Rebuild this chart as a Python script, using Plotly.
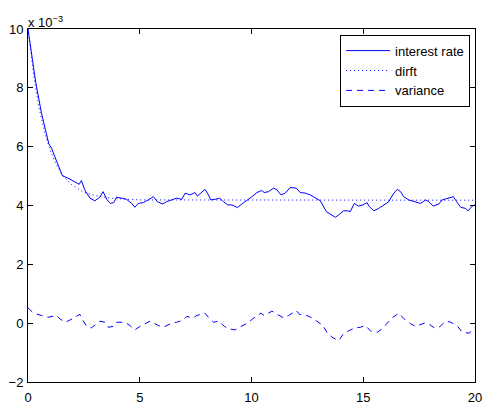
import plotly.graph_objects as go

# values in units of 1e-3
rate_t = [0, 0.15, 0.35, 0.6, 0.93, 1.05, 1.24, 1.39, 1.54, 1.79, 2.09, 2.29, 2.39, 2.54, 2.77, 2.99, 3.21, 3.36, 3.54, 3.69, 3.84, 3.96, 4.19, 4.41, 4.64, 4.78, 4.93, 5.16, 5.38, 5.61, 5.79, 6.03, 6.20, 6.43, 6.65, 6.88, 7.03, 7.25, 7.47, 7.58, 7.78, 7.92, 8.03, 8.18, 8.37, 8.57, 8.75, 8.93, 9.12, 9.37, 9.57, 9.79, 10.02, 10.24, 10.46, 10.57, 10.76, 10.99, 11.14, 11.32, 11.51, 11.73, 12.00, 12.18, 12.41, 12.63, 12.86, 13.08, 13.35, 13.56, 13.75, 13.90, 14.12, 14.30, 14.42, 14.60, 14.79, 14.99, 15.17, 15.25, 15.47, 15.69, 15.92, 16.14, 16.34, 16.52, 16.67, 16.81, 17.04, 17.26, 17.56, 17.79, 17.93, 18.13, 18.38, 18.53, 18.76, 19.03, 19.18, 19.36, 19.58, 19.69, 19.88, 20]
rate_v = [10.0, 9.2, 8.17, 7.15, 6.1, 5.95, 5.61, 5.32, 5.01, 4.93, 4.81, 4.72, 4.85, 4.53, 4.25, 4.16, 4.28, 4.47, 4.19, 4.07, 4.10, 4.28, 4.25, 4.21, 4.07, 3.94, 4.07, 4.10, 4.19, 4.30, 4.13, 4.05, 4.13, 4.19, 4.25, 4.21, 4.42, 4.36, 4.44, 4.32, 4.47, 4.55, 4.42, 4.19, 4.21, 4.25, 4.13, 4.02, 4.02, 3.93, 4.05, 4.16, 4.30, 4.44, 4.51, 4.44, 4.47, 4.59, 4.53, 4.36, 4.42, 4.61, 4.59, 4.44, 4.42, 4.36, 4.25, 4.16, 3.79, 3.68, 3.60, 3.68, 3.82, 3.82, 3.79, 4.07, 3.98, 4.02, 4.10, 3.98, 3.82, 3.90, 4.02, 4.13, 4.39, 4.55, 4.47, 4.30, 4.19, 4.13, 4.07, 4.19, 4.13, 3.98, 4.05, 4.19, 4.25, 4.30, 4.13, 3.94, 3.90, 3.82, 3.98, 4.02]

drift_t = [0, 0.25, 0.5, 0.75, 1.0, 1.25, 1.5, 1.75, 2.0, 2.5, 3.0, 3.5, 4.0, 5.0, 20]
drift_v = [10.0, 8.44, 7.30, 6.47, 5.86, 5.42, 5.09, 4.85, 4.68, 4.45, 4.34, 4.27, 4.23, 4.19, 4.18]

var_t = [0.0, 0.25, 0.60, 0.90, 1.27, 1.42, 1.65, 1.84, 2.32, 2.39, 2.62, 2.84, 3.22, 3.44, 3.59, 3.81, 3.96, 4.34, 4.56, 4.78, 5.01, 5.46, 5.83, 6.05, 6.43, 6.65, 6.95, 7.10, 7.40, 7.55, 7.92, 8.07, 8.30, 8.52, 8.79, 8.97, 9.27, 9.50, 9.82, 10.06, 10.42, 10.57, 10.91, 11.14, 11.43, 11.66, 12.00, 12.15, 12.48, 12.71, 13.01, 13.20, 13.41, 13.65, 13.90, 14.12, 14.42, 14.65, 14.87, 15.10, 15.33, 15.63, 15.85, 16.14, 16.29, 16.59, 16.82, 17.12, 17.35, 17.73, 17.88, 18.18, 18.39, 18.70, 18.92, 19.22, 19.44, 19.74, 20.0]
var_v = [0.52, 0.34, 0.26, 0.20, 0.26, 0.15, 0.03, 0.09, 0.30, 0.18, -0.11, -0.16, 0.07, 0.03, -0.14, -0.11, 0.03, 0.03, -0.08, -0.23, -0.11, 0.07, -0.08, -0.14, 0.0, 0.03, 0.11, 0.23, 0.18, 0.26, 0.34, 0.20, 0.03, 0.07, -0.11, -0.19, -0.23, -0.12, 0.0, 0.15, 0.34, 0.26, 0.41, 0.32, 0.18, 0.26, 0.43, 0.30, 0.26, 0.18, 0.03, -0.08, -0.36, -0.50, -0.59, -0.36, -0.23, -0.16, -0.14, -0.08, -0.27, -0.31, -0.19, 0.03, 0.18, 0.34, 0.15, -0.02, -0.11, 0.0, 0.0, -0.16, -0.14, 0.07, 0.03, -0.11, -0.31, -0.34, -0.15]

x_ticks = [0, 5, 10, 15, 20]
y_ticks = [-2, 0, 2, 4, 6, 8, 10]

blue = "#0000ff"
fig = go.Figure()
fig.add_trace(go.Scatter(x=rate_t, y=rate_v, mode="lines", name="interest rate",
                         line=dict(color=blue, width=1)))
fig.add_trace(go.Scatter(x=drift_t, y=drift_v, mode="lines", name="dirft",
                         line=dict(color=blue, width=1, dash="1px,3px")))
fig.add_trace(go.Scatter(x=var_t, y=var_v, mode="lines", name="variance",
                         line=dict(color=blue, width=1, dash="6px,5px")))

axis_common = dict(showgrid=False, zeroline=False, showline=True, linecolor="black",
                   linewidth=1, mirror="ticks", ticks="inside", ticklen=5,
                   tickcolor="black", tickfont=dict(size=13, color="black"),
                   automargin=False, ticklabeloverflow="allow")
fig.update_xaxes(range=[0, 20], tickvals=x_ticks, ticklabelstandoff=3, **axis_common)
fig.update_yaxes(range=[-2, 10], tickvals=y_ticks, ticklabelstandoff=1, **axis_common)

fig.add_annotation(text="x 10<sup>−3</sup>", xref="paper", yref="paper", x=0, y=1,
                   xanchor="left", yanchor="bottom", showarrow=False,
                   font=dict(size=13, color="black"), yshift=-3, xshift=-2)

fig.update_layout(
    width=483, height=405,
    margin=dict(l=28, r=8, t=29, b=23),
    plot_bgcolor="white", paper_bgcolor="white",
    font=dict(family="Liberation Sans, Arial, sans-serif", size=13, color="black"),
    legend=dict(x=0.989, y=0.984, xanchor="right", yanchor="top",
                bordercolor="black", borderwidth=1, bgcolor="white",
                font=dict(size=13), tracegroupgap=0, itemwidth=44),
    showlegend=True,
)

fig.write_html("out.html", post_script="document.body.style.margin='0';",
               config={"displayModeBar": False})
